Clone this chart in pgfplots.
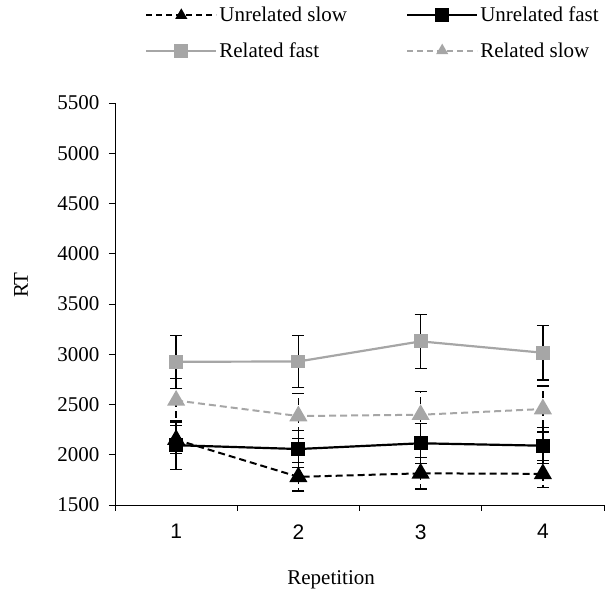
\documentclass[border=0pt]{standalone}
\usepackage{fontspec}
\setmainfont{Liberation Serif}
\newfontfamily\arialfont{Liberation Sans}
\usepackage{pgfplots}
\pgfplotsset{compat=1.18}
\definecolor{rgray}{RGB}{166,166,166}

\pgfplotstableread{
x y e
1 2150 140
2 1780 140
3 1815 155
4 1810 133
}\us
\pgfplotstableread{
x y e
1 2095 240
2 2057 185
3 2114 200
4 2090 180
}\uf
\pgfplotstableread{
x y e
1 2925 265
2 2928 262
3 3128 267
4 3015 270
}\rf
\pgfplotstableread{
x y e
1 2540 222
2 2385 225
3 2398 230
4 2455 230
}\rs

\begin{document}
\begin{tikzpicture}
\useasboundingbox (-115pt,-89pt) rectangle (491pt,505pt);
\begin{axis}[
  scale only axis, width=489pt, height=402pt,
  xmin=0.5, xmax=4.5, ymin=1500, ymax=5500,
  axis x line*=bottom, axis y line*=left,
  axis line style={line width=0.9pt},
  every tick/.style={black, line width=0.9pt},
  tick align=outside,
  major tick length=6pt,
  ytick={1500,2000,...,5500},
  xtick={0.5,1.5,2.5,3.5,4.5},
  xticklabels={},
  extra x ticks={1,2,3,4},
  extra x tick labels={1,2,3,4},
  extra x tick style={major tick length=0pt,
     xticklabel style={font=\arialfont\fontsize{21}{25}\selectfont, anchor=north, yshift=-16pt}},
  yticklabel style={font=\fontsize{21}{25}\selectfont, xshift=-6pt},
  /pgf/number format/assume math mode=true,
  /pgf/number format/1000 sep={},
  xlabel={Repetition},
  xlabel style={font=\fontsize{21}{25}\selectfont, at={(axis description cs:0.442,0)}, anchor=base, yshift=-80pt},
  ylabel={RT},
  ylabel style={font=\fontsize{21}{25}\selectfont, at={(axis description cs:-0.192,0.547)}, anchor=center},
  clip=false,
  legend columns=2,
  legend cell align=left,
  legend style={draw=none, fill=none, at={(axis description cs:0,1)}, anchor=north west,
     xshift=30pt, yshift=98pt, inner sep=0pt, font=\fontsize{21}{25}\selectfont,
     row sep=15pt,
     /tikz/every even column/.append style={column sep=57pt}},
  legend image code/.code={\draw[mark repeat=2,mark phase=2,#1] plot coordinates {(0pt,0pt) (35pt,0pt) (70pt,0pt)};},
  error bars/y dir=both, error bars/y explicit,
  error bars/error bar style={line width=1.3pt, black},
  error bars/error mark options={rotate=90, mark size=6pt, line width=1.3pt, black},
]
\addlegendimage{black, line width=2pt, dash pattern=on 6pt off 4pt, mark=triangle*, mark options={solid, mark size=5pt}}
\addlegendentry{Unrelated slow}
\addlegendimage{black, line width=2.2pt, mark=square*, mark options={mark size=5.8pt}}
\addlegendentry{Unrelated fast}
\addlegendimage{rgray, line width=2.2pt, mark=square*, mark options={mark size=5.8pt}}
\addlegendentry{Related fast}
\addlegendimage{rgray, line width=2pt, dash pattern=on 6pt off 4pt, mark=triangle*, mark options={solid, mark size=5pt}}
\addlegendentry{Related slow}

\addplot[forget plot, black, line width=2pt, dash pattern=on 7pt off 4pt, mark=triangle*, mark options={solid, mark size=8.5pt}] table[x=x, y=y, y error=e] {\us};
\addplot[forget plot, black, line width=2.2pt, mark=square*, mark options={mark size=5.8pt}] table[x=x, y=y, y error=e] {\uf};
\addplot[forget plot, rgray, line width=2.2pt, mark=square*, mark options={mark size=5.8pt}] table[x=x, y=y, y error=e] {\rf};
\addplot[forget plot, rgray, line width=2pt, dash pattern=on 7pt off 4pt, mark=triangle*, mark options={solid, mark size=8.5pt}] table[x=x, y=y, y error=e] {\rs};
\end{axis}
\end{tikzpicture}
\end{document}
